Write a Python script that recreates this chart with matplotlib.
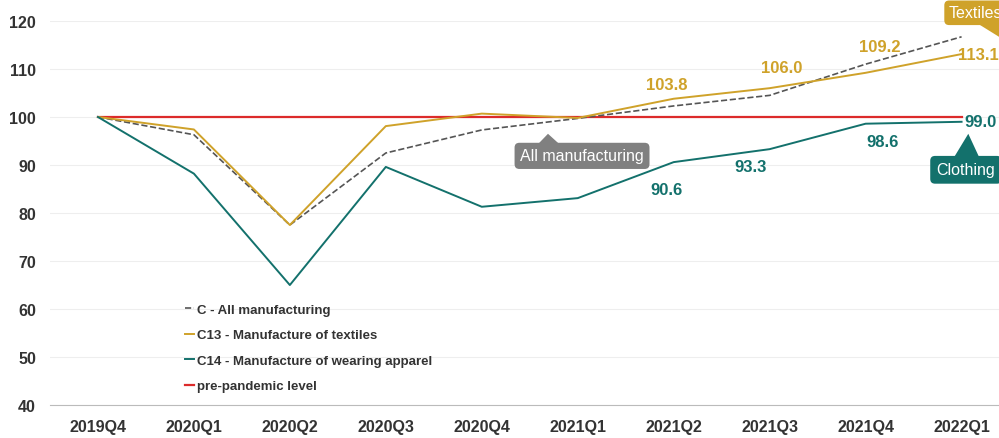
import matplotlib.pyplot as plt
from matplotlib.patches import Polygon

quarters = ["2019Q4", "2020Q1", "2020Q2", "2020Q3", "2020Q4",
            "2021Q1", "2021Q2", "2021Q3", "2021Q4", "2022Q1"]
all_manuf = [100, 96.3, 77.5, 92.5, 97.3, 99.7, 102.3, 104.5, 111.0, 116.7]
textiles = [100, 97.4, 77.5, 98.1, 100.7, 99.8, 103.8, 106.0, 109.2, 113.1]
clothing = [100, 88.2, 65.0, 89.6, 81.3, 83.1, 90.6, 93.3, 98.6, 99.0]
pre_pandemic = [100] * len(quarters)

# which points get value labels, and where the label sits (dx, dy)
tex_labels = {6: (-0.07, 2.9), 7: (0.13, 4.4), 8: (0.15, 5.4), 9: (0.17, 0.0)}
clo_labels = {6: (-0.07, -5.6), 7: (-0.2, -3.7), 8: (0.18, -3.8), 9: (0.2, 0.0)}

gold = "#CFA22A"
teal = "#13716C"
red = "#DC2B2B"
grey = "#555555"
txt = "#333333"
plt.rcParams["font.family"] = ["Liberation Sans", "DejaVu Sans"]

fig = plt.figure(figsize=(9.99, 4.39), dpi=100)
ax = fig.add_axes([0.05, 0.075, 0.95, 0.875])
x = list(range(len(quarters)))

ax.plot(x, all_manuf, ls="--", color=grey, lw=1.2, label="C - All manufacturing", zorder=3)
ax.plot(x, textiles, color=gold, lw=1.4, label="C13 - Manufacture of textiles", zorder=3)
ax.plot(x, clothing, color=teal, lw=1.4, label="C14 - Manufacture of wearing apparel", zorder=3)
ax.plot(x, pre_pandemic, color=red, lw=1.6, label="pre-pandemic level", zorder=2)

ax.set_xlim(-0.5, 9.39)
ax.set_ylim(40, 120)
ax.set_yticks(range(40, 121, 10))
ax.set_xticks(x)
ax.set_xticklabels(quarters)
ax.grid(axis="y", color="#EEEEEE", lw=0.8)
ax.set_axisbelow(True)
for s in ["top", "right", "left"]:
    ax.spines[s].set_visible(False)
ax.spines["bottom"].set_color("#BBBBBB")
ax.tick_params(length=0, labelsize=11.5, labelcolor=txt, pad=10)
for lab in ax.get_xticklabels() + ax.get_yticklabels():
    lab.set_fontweight("bold")

# value labels
for i, (dx, dy) in tex_labels.items():
    ax.text(i + dx, textiles[i] + dy, f"{textiles[i]:.1f}", color=gold, fontsize=12,
            fontweight="bold", ha="center", va="center", clip_on=False)
for i, (dx, dy) in clo_labels.items():
    ax.text(i + dx, clothing[i] + dy, f"{clothing[i]:.1f}", color=teal, fontsize=12,
            fontweight="bold", ha="center", va="center")

# callout boxes
ax.text(4.4, 91.9, "All manufacturing", color="white", fontsize=11.5, ha="left", va="center",
        bbox=dict(boxstyle="round,pad=0.35,rounding_size=0.3", fc="#808080", ec="none"))
ax.add_patch(Polygon([(4.55, 93.6), (4.69, 96.5), (4.85, 93.6)], closed=True,
                     fc="#808080", ec="none"))
ax.text(8.74, 89.0, "Clothing", color="white", fontsize=11.5, ha="left", va="center",
        bbox=dict(boxstyle="round,pad=0.4,rounding_size=0.3", fc=teal, ec="none"))
ax.add_patch(Polygon([(8.9, 90.9), (9.07, 96.5), (9.2, 90.9)], closed=True,
                     fc=teal, ec="none"))
ax.text(8.87, 121.7, "Textiles", color="white", fontsize=11.5, ha="left", va="center",
        clip_on=False,
        bbox=dict(boxstyle="round,pad=0.3,rounding_size=0.3", fc=gold, ec="none"))
ax.add_patch(Polygon([(9.1, 120.3), (9.39, 116.7), (9.39, 120.3)], closed=True,
                     fc=gold, ec="none", clip_on=False))

leg = ax.legend(loc="upper left", bbox_to_anchor=(0.13, 0.295), frameon=False,
                handlelength=0.7, handletextpad=0.2, labelspacing=1.0, fontsize=9.5)
for t in leg.get_texts():
    t.set_color(txt)
    t.set_fontweight("bold")

fig.savefig("out.png", dpi=100)
